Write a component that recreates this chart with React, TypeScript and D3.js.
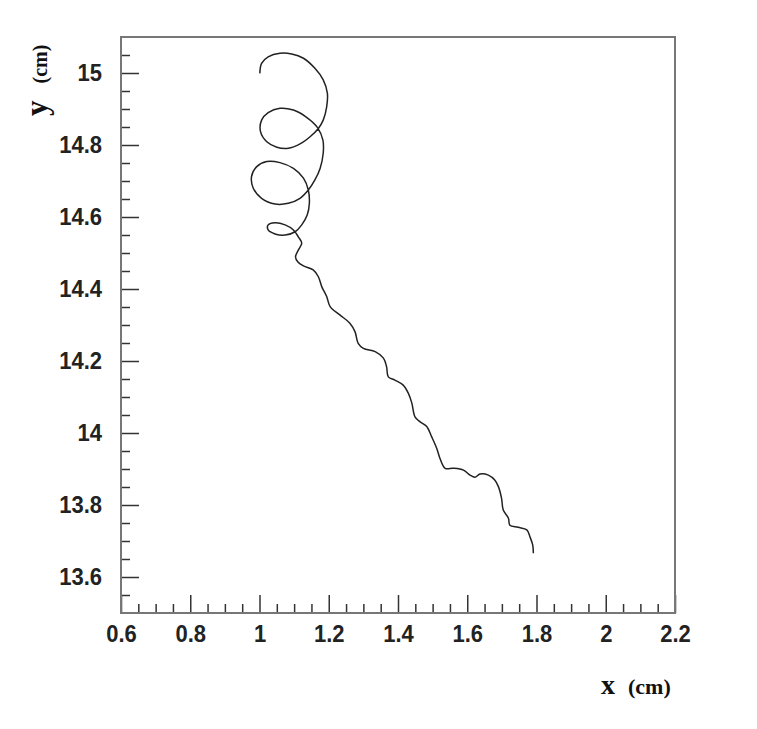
import * as d3 from 'd3';
import React, { useRef, useEffect } from 'react';

// track points (cm)
const trackX = [
  1.001, 1.006, 1.025, 1.059, 1.093, 1.127, 1.160, 1.184, 1.196, 1.194,
  1.184, 1.170, 1.146, 1.117, 1.083, 1.050, 1.021, 1.003, 1.006, 1.025,
  1.059, 1.098, 1.136, 1.167, 1.183, 1.184, 1.175, 1.160, 1.141, 1.117,
  1.083, 1.045, 1.006, 0.982, 0.977, 0.992, 1.021, 1.059, 1.098, 1.127,
  1.141, 1.144, 1.138, 1.122, 1.103, 1.074, 1.045, 1.025, 1.025, 1.045,
  1.074, 1.098, 1.112, 1.122, 1.112, 1.104, 1.111, 1.127, 1.155, 1.170,
  1.180, 1.194, 1.204, 1.232, 1.261, 1.276, 1.285, 1.300, 1.334, 1.358,
  1.367, 1.372, 1.391, 1.415, 1.430, 1.440, 1.449, 1.464, 1.483, 1.497,
  1.512, 1.521, 1.536, 1.560, 1.589, 1.608, 1.622, 1.637, 1.661, 1.680,
  1.690, 1.699, 1.704, 1.719, 1.723, 1.747, 1.772, 1.781, 1.789, 1.791,
];
const trackY = [
  14.999, 15.027, 15.045, 15.055, 15.053, 15.041, 15.013, 14.981, 14.944, 14.906,
  14.869, 14.846, 14.823, 14.803, 14.791, 14.794, 14.809, 14.837, 14.869, 14.890,
  14.902, 14.897, 14.877, 14.849, 14.814, 14.777, 14.735, 14.703, 14.675, 14.652,
  14.638, 14.636, 14.652, 14.680, 14.712, 14.740, 14.754, 14.751, 14.735, 14.708,
  14.675, 14.638, 14.606, 14.578, 14.559, 14.550, 14.553, 14.564, 14.578, 14.584,
  14.578, 14.564, 14.545, 14.527, 14.508, 14.489, 14.475, 14.464, 14.453, 14.434,
  14.406, 14.379, 14.351, 14.328, 14.305, 14.281, 14.249, 14.235, 14.226, 14.208,
  14.184, 14.156, 14.147, 14.133, 14.110, 14.083, 14.045, 14.031, 14.018, 13.990,
  13.957, 13.930, 13.902, 13.902, 13.897, 13.883, 13.877, 13.886, 13.883, 13.869,
  13.851, 13.819, 13.786, 13.763, 13.744, 13.738, 13.731, 13.712, 13.689, 13.666,
];

const xDomain = [0.6, 2.2];
const yDomain = [13.5, 15.1];
const xMajor = [0.6, 0.8, 1.0, 1.2, 1.4, 1.6, 1.8, 2.0, 2.2];
const xMajorLabels = ['0.6', '0.8', '1', '1.2', '1.4', '1.6', '1.8', '2', '2.2'];
const yMajor = [13.6, 13.8, 14.0, 14.2, 14.4, 14.6, 14.8, 15.0];
const yMajorLabels = ['13.6', '13.8', '14', '14.2', '14.4', '14.6', '14.8', '15'];
const xMinor = d3.range(0.65, 2.2, 0.05).filter((v) => Math.abs(Math.round(v * 5) - v * 5) > 0.01);
const yMinor = d3.range(13.55, 15.1, 0.05).filter((v) => Math.abs(Math.round(v * 5) - v * 5) > 0.01);

const W = 757, H = 729;
const left = 121, right = 675, top = 37, bottom = 613;

export default function App() {
  const gRef = useRef<SVGGElement>(null);

  useEffect(() => {
    const g = d3.select(gRef.current);
    g.selectAll('*').remove();

    const x = d3.scaleLinear().domain(xDomain).range([left, right]);
    const y = d3.scaleLinear().domain(yDomain).range([bottom, top]);

    // minor ticks
    g.append('g')
      .attr('transform', `translate(0,${bottom})`)
      .call(d3.axisBottom(x).tickValues(xMinor).tickSizeInner(-9).tickSizeOuter(0).tickFormat(() => ''))
      .call((s) => s.select('.domain').remove());
    g.append('g')
      .attr('transform', `translate(${left},0)`)
      .call(d3.axisLeft(y).tickValues(yMinor).tickSizeInner(-9).tickSizeOuter(0).tickFormat(() => ''))
      .call((s) => s.select('.domain').remove());

    // major ticks with labels
    const xa = g.append('g')
      .attr('transform', `translate(0,${bottom})`)
      .call(d3.axisBottom(x).tickValues(xMajor).tickSizeInner(-18).tickSizeOuter(0).tickPadding(11)
        .tickFormat((d, i) => xMajorLabels[i]));
    xa.select('.domain').remove();
    const ya = g.append('g')
      .attr('transform', `translate(${left},0)`)
      .call(d3.axisLeft(y).tickValues(yMajor).tickSizeInner(-18).tickSizeOuter(0).tickPadding(19)
        .tickFormat((d, i) => yMajorLabels[i]));
    ya.select('.domain').remove();

    g.selectAll('.tick line').attr('stroke', '#333').attr('stroke-width', 1.5);
    g.selectAll('.tick text')
      .attr('font-family', '"Liberation Sans", Arial, sans-serif')
      .attr('font-size', 22)
      .attr('font-weight', 'bold')
      .attr('fill', '#222')
      .attr('transform', 'scale(1,1.08)');

    // frame
    g.append('rect')
      .attr('x', left).attr('y', top)
      .attr('width', right - left).attr('height', bottom - top)
      .attr('fill', 'none').attr('stroke', '#777').attr('stroke-width', 2);

    // track
    const pts = trackX.map((v, i) => [v, trackY[i]] as [number, number]);
    const line = d3.line<[number, number]>()
      .x((d) => x(d[0]))
      .y((d) => y(d[1]))
      .curve(d3.curveCatmullRom.alpha(0.5));
    g.append('path')
      .datum(pts)
      .attr('d', line)
      .attr('fill', 'none')
      .attr('stroke', '#222')
      .attr('stroke-width', 1.5);

    // axis titles
    const xt = g.append('text')
      .attr('x', 601).attr('y', 694)
      .attr('font-family', '"Liberation Serif", "Times New Roman", serif')
      .attr('font-weight', 'bold')
      .attr('fill', '#111');
    xt.append('tspan').attr('font-size', 28).text('x');
    xt.append('tspan').attr('font-size', 22).attr('dx', 13).text('(cm)');

    const yt = g.append('text')
      .attr('transform', 'translate(47,116) rotate(-90)')
      .attr('font-family', '"Liberation Serif", "Times New Roman", serif')
      .attr('font-weight', 'bold')
      .attr('fill', '#111');
    yt.append('tspan').attr('font-size', 31).text('y');
    yt.append('tspan').attr('font-size', 20).attr('dx', 17).text('(cm)');
  }, []);

  return (
    <svg width={W} height={H} style={{ position: 'absolute', left: 0, top: 0, background: '#fff' }}>
      <g ref={gRef} />
    </svg>
  );
}
